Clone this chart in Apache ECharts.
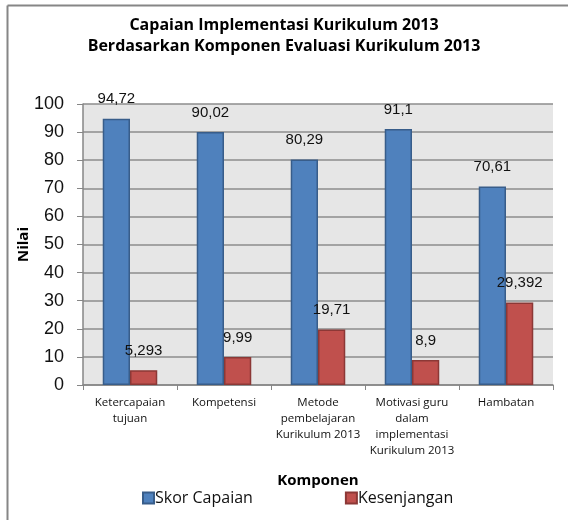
<!DOCTYPE html>
<html>
<head>
<meta charset="utf-8">
<script src="https://cdn.jsdelivr.net/npm/echarts@6/dist/echarts.min.js"></script>
<style>
  html, body { margin: 0; padding: 0; background: #fff; }
  #chartDiv { width: 568px; height: 520px; }
</style>
</head>
<body>
<div id="chartDiv"></div>
<script>
// data
var categories = ["Ketercapaian\ntujuan", "Kompetensi", "Metode\npembelajaran\nKurikulum 2013",
    "Motivasi guru\ndalam\nimplementasi\nKurikulum 2013", "Hambatan"];
var skorCapaian = [94.72, 90.02, 80.29, 91.1, 70.61];
var kesenjangan = [5.293, 9.99, 19.71, 8.9, 29.392];
var seriesNames = ["Skor Capaian", "Kesenjangan"];

var chartDiv = echarts.init(document.getElementById('chartDiv'));

// angka pakai koma desimal
function commaLabel(p) {
    return String(p.value).replace('.', ',');
}

var labelStyle = {
    show: true,
    position: 'top',
    distance: 12,
    formatter: commaLabel,
    fontFamily: 'Liberation Sans, Arial',
    fontSize: 15,
    color: '#111'
};

var option = {
    animation: false,
    title: {
        text: 'Capaian Implementasi Kurikulum 2013\nBerdasarkan Komponen Evaluasi Kurikulum 2013',
        left: 'center',
        top: 10,
        textStyle: {
            fontFamily: 'Open Sans',
            fontWeight: 'bold',
            fontSize: 16,
            lineHeight: 21,
            color: '#000'
        }
    },
    legend: {
        left: 142,
        top: 490,
        padding: 0,
        itemWidth: 11,
        itemHeight: 11,
        itemGap: 92,
        icon: 'rect',
        textStyle: { fontFamily: 'Open Sans', fontSize: 16, color: '#111', padding: [0, 0, 0, -4] },
        data: seriesNames
    },
    graphic: [
        { type: 'line', shape: { x1: 7.5, y1: 5.5, x2: 568, y2: 5.5 }, style: { stroke: '#868686', lineWidth: 2 } },
        { type: 'line', shape: { x1: 7.5, y1: 5.5, x2: 7.5, y2: 520 }, style: { stroke: '#868686', lineWidth: 2 } }
    ],
    grid: {
        left: 83,
        right: 15,
        top: 104,
        bottom: 135,
        show: true,
        backgroundColor: '#e6e6e6',
        borderWidth: 0
    },
    xAxis: {
        type: 'category',
        data: categories,
        name: 'Komponen',
        nameLocation: 'middle',
        nameGap: 88,
        nameMoveOverlap: false,
        nameTextStyle: { fontFamily: 'Open Sans', fontWeight: 'bold', fontSize: 15, color: '#000' },
        axisLine: { lineStyle: { color: '#868686', width: 1.5 } },
        axisTick: { show: true, length: 5, lineStyle: { color: '#868686' } },
        axisLabel: {
            interval: 0,
            margin: 10,
            fontFamily: 'Open Sans',
            fontSize: 11.5,
            lineHeight: 16,
            color: '#111'
        }
    },
    yAxis: {
        type: 'value',
        min: 0,
        max: 100,
        interval: 10,
        name: 'Nilai',
        nameLocation: 'middle',
        nameGap: 52,
        nameMoveOverlap: false,
        nameTextStyle: { fontFamily: 'Open Sans', fontWeight: 'bold', fontSize: 15, color: '#000' },
        axisLine: { show: true, lineStyle: { color: '#868686', width: 1.5 } },
        axisTick: { show: true, length: 6, lineStyle: { color: '#868686' } },
        axisLabel: { margin: 19, fontFamily: 'Liberation Sans, Arial', fontSize: 18, color: '#111' },
        splitLine: { lineStyle: { color: '#8c8c8c', width: 1.5 } }
    },
    series: [
        {
            name: seriesNames[0],
            type: 'bar',
            data: skorCapaian,
            barGap: '0%',
            barCategoryGap: '42%',
            itemStyle: { color: '#4f81bd', borderColor: '#385d8a', borderWidth: 1.5 },
            label: labelStyle
        },
        {
            name: seriesNames[1],
            type: 'bar',
            data: kesenjangan,
            barGap: '0%',
            barCategoryGap: '42%',
            itemStyle: { color: '#c0504d', borderColor: '#8c3836', borderWidth: 1.5 },
            label: labelStyle
        }
    ]
};

chartDiv.setOption(option);
</script>
</body>
</html>
